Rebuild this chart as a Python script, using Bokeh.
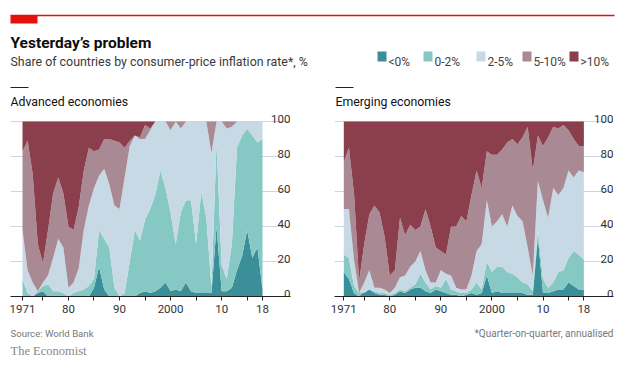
import numpy as np
from bokeh.plotting import figure
from bokeh.models import Label, BoxAnnotation, FixedTicker, Range1d
from bokeh.layouts import row, column
from bokeh.core.properties import value
from bokeh.embed import file_html
from bokeh.resources import INLINE

# ---------------- data (cumulative top edge of each band, % of countries) -------------
years = list(range(1971, 2019))

categories = ["<0%", "0-2%", "2-5%", "5-10%", ">10%"]

adv_top_lt0 = [0, 0, 0, 2, 3, 0, 0, 0, 0, 0,
               0, 0, 0, 0, 5, 17, 4, 0, 0, 0,
               0, 0, 0, 2, 3, 2, 3, 5, 8, 3,
               4, 3, 8, 3, 2, 2, 2, 2, 40, 3,
               3, 5, 15, 23, 38, 22, 28, 4]
adv_top_0to2 = [10, 2, 0, 3, 6, 7, 3, 3, 2, 0,
                2, 3, 4, 6, 10, 38, 33, 28, 5, 0,
                2, 20, 38, 32, 44, 50, 58, 72, 62, 48,
                30, 48, 55, 55, 30, 60, 45, 5, 88, 18,
                10, 30, 85, 92, 96, 92, 88, 90]
adv_top_2to5 = [38, 15, 8, 3, 8, 12, 22, 33, 28, 5,
                8, 16, 38, 52, 62, 69, 73, 64, 52, 50,
                68, 86, 92, 90, 90, 95, 100, 100, 100, 95,
                100, 96, 100, 100, 100, 100, 100, 82, 100, 100,
                96, 97, 100, 100, 100, 100, 100, 100]
adv_top_5to10 = [83, 89, 70, 30, 19, 38, 59, 68, 59, 40,
                 38, 51, 72, 85, 83, 84, 90, 90, 89, 88,
                 85, 89, 92, 91, 98, 96, 100, 100, 100, 100,
                 100, 100, 100, 100, 100, 100, 100, 100, 100, 100,
                 100, 100, 100, 100, 100, 100, 100, 100]

emg_top_lt0 = [14, 10, 2, 0, 3, 4, 2, 1, 1, 0,
               1, 3, 2, 4, 5, 5, 3, 2, 4, 3,
               2, 1, 1, 0, 1, 2, 1, 2, 12, 2,
               3, 2, 2, 2, 2, 2, 1, 1, 34, 2,
               2, 3, 4, 4, 8, 6, 4, 4]
emg_top_0to2 = [24, 22, 6, 2, 2, 4, 3, 2, 2, 1,
                2, 4, 3, 5, 7, 13, 8, 4, 6, 5,
                10, 4, 3, 2, 2, 4, 8, 4, 20, 14,
                17, 17, 14, 13, 11, 8, 7, 3, 38, 10,
                5, 8, 14, 15, 22, 26, 24, 21]
emg_top_2to5 = [50, 50, 21, 2, 8, 15, 5, 5, 4, 2,
                5, 11, 12, 17, 20, 26, 15, 8, 8, 15,
                13, 12, 5, 4, 4, 12, 26, 30, 55, 40,
                43, 47, 40, 52, 46, 43, 28, 12, 66, 55,
                45, 62, 58, 62, 72, 68, 72, 71]
emg_top_5to10 = [77, 85, 59, 9, 30, 47, 52, 48, 34, 12,
                 15, 45, 35, 41, 38, 40, 50, 40, 28, 26,
                 24, 40, 40, 46, 43, 58, 72, 62, 83, 81,
                 81, 84, 88, 90, 87, 91, 97, 72, 92, 86,
                 91, 97, 96, 98, 95, 90, 86, 86]
total = 100

y_ticks = [0, 20, 40, 60, 80, 100]
y_tick_labels = ["0", "20", "40", "60", "80", "100"]
x_major_ticks = [1971, 1980, 1990, 2000, 2010, 2018]
x_major_labels = ["1971", "80", "90", "2000", "10", "18"]
x_minor_ticks = [1975, 1985, 1995, 2005, 2015]

# ---------------- styling ----------------
COLORS = ["#3b8f99", "#86c9c4", "#c6d9e4", "#a98a94", "#8b3e4c"]
RED = "#e3120b"
GRID = "#cdd6dc"
SANS = "Roboto"
SERIF = "Liberation Serif"

PAGE_W = 632
HEAD_H = 110
PANEL_H = 212
FOOT_H = 36
BORDER_BOTTOM = 26
FRAME_H = PANEL_H - BORDER_BOTTOM
PX_PER_UNIT = 1.75


def blank_fig(width, height):
    p = figure(width=width, height=height, output_backend="svg", toolbar_location=None,
               min_border=0, x_range=Range1d(0, width), y_range=Range1d(height, 0),
               x_axis_location=None, y_axis_location=None, title=None)
    p.outline_line_color = None
    p.grid.visible = False
    p.background_fill_color = "white"
    p.border_fill_color = "white"
    return p


def make_panel(width, bl, br, x0, x1, tops):
    p = figure(width=width, height=PANEL_H, output_backend="svg", toolbar_location=None,
               min_border_left=bl, min_border_right=br,
               min_border_top=0, min_border_bottom=BORDER_BOTTOM,
               x_range=Range1d(x0, x1), y_range=Range1d(0, FRAME_H / PX_PER_UNIT),
               y_axis_location=None, title=None)
    p.outline_line_color = None
    p.background_fill_color = "white"
    p.border_fill_color = "white"
    p.xgrid.visible = False
    p.ygrid.ticker = FixedTicker(ticks=y_ticks)
    p.ygrid.grid_line_color = GRID
    p.ygrid.grid_line_width = 1

    bounds = [[0] * len(years)] + tops + [[total] * len(years)]
    for i, c in enumerate(COLORS):
        p.varea(x=years, y1=bounds[i], y2=bounds[i + 1], fill_color=c, fill_alpha=1.0)

    p.text(x=[x1] * len(y_ticks), y=y_ticks, text=y_tick_labels,
           text_align="right", text_baseline="alphabetic", y_offset=-3,
           text_font=value(SANS), text_font_size="11.5px", text_color="#333333")

    ax = p.xaxis[0]
    ax.ticker = FixedTicker(ticks=x_major_ticks, minor_ticks=x_minor_ticks)
    ax.major_label_overrides = dict(zip(x_major_ticks, x_major_labels))
    ax.major_label_text_font = SANS
    ax.major_label_text_font_size = "11.5px"
    ax.major_label_text_color = "#333333"
    ax.major_label_standoff = 4
    ax.axis_line_color = "#222222"
    ax.axis_line_width = 1
    ax.major_tick_in = 0
    ax.major_tick_out = 4
    ax.minor_tick_in = 0
    ax.minor_tick_out = 4
    ax.major_tick_line_color = "#222222"
    ax.minor_tick_line_color = "#222222"
    return p


def add_text(p, x, y, text, size, color, font=SANS, style="normal", align="left"):
    p.add_layout(Label(x=x, y=y, text=text, text_font=font, text_font_size=size,
                       text_color=color, text_font_style=style, text_align=align,
                       text_baseline="alphabetic"))


def add_box(p, x0, y0, x1, y1, color):
    p.add_layout(BoxAnnotation(left=x0, right=x1, top=y0, bottom=y1,
                               fill_color=color, fill_alpha=1.0, line_color=None,
                               level="annotation"))


# ---------------- header ----------------
head = blank_fig(PAGE_W, HEAD_H)
head.segment(x0=[10], y0=[15], x1=[614], y1=[15], line_color=RED, line_width=1.3)
add_box(head, 10, 15, 37, 23, RED)
add_text(head, 10, 42, "Yesterday’s problem", "15.5px", "#0d0d0d", style="bold")
add_text(head, 10, 61, "Share of countries by consumer-price inflation rate*, %", "12.4px", "#3a3a3a")

leg_sw = [377, 423, 476, 522, 569]
for sx, c, t in zip(leg_sw, COLORS, categories):
    add_box(head, sx, 51, sx + 9, 61, c)
    add_text(head, sx + 11, 61, t, "12px", "#444444")

head.segment(x0=[10, 335], y0=[87, 87], x1=[28, 353], y1=[87, 87], line_color="#222222", line_width=1)
add_text(head, 10, 101, "Advanced economies", "12.3px", "#111111")
add_text(head, 335, 101, "Emerging economies", "12.3px", "#111111")

# ---------------- panels ----------------
left = make_panel(320, 10, 30, 1968.65, 2023.48,
                  [adv_top_lt0, adv_top_0to2, adv_top_2to5, adv_top_5to10])
right = make_panel(312, 14, 19, 1969.18, 2023.8,
                   [emg_top_lt0, emg_top_0to2, emg_top_2to5, emg_top_5to10])

# ---------------- footer ----------------
foot = blank_fig(PAGE_W, FOOT_H)
add_text(foot, 10, 11, "Source: World Bank", "9.6px", "#777777")
add_text(foot, 10, 28, "The Economist", "12.5px", "#888888", font=SERIF)
add_text(foot, 613, 11, "*Quarter-on-quarter, annualised", "10px", "#777777", align="right")

layout = column(head, row(left, right), foot)
open("out.html", "w").write(file_html(layout, INLINE))
